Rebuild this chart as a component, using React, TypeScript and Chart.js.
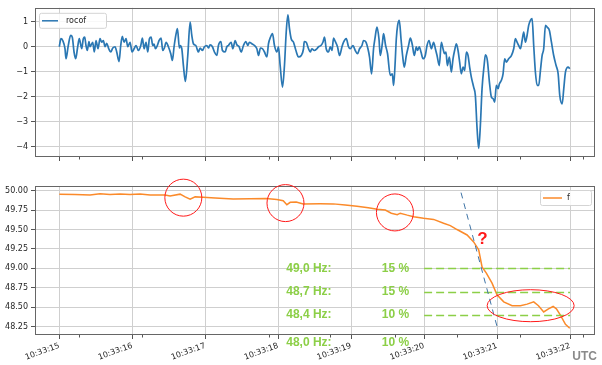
import React, { useEffect, useRef } from 'react';
import { Chart, registerables } from 'chart.js';

Chart.register(...registerables);

const FONT = "'DejaVu Sans', 'Liberation Sans', sans-serif";
const BOLD_FONT = "'Liberation Sans', Arial, sans-serif";
const TEXT = '#262626';
const GRID = '#cfcfcf';
const FRAME = '#666666';
const TICK = '#555555';
const BLUE = '#2a77b3';
const ORANGE = '#fb8a2a';
const GREEN = '#8ccf47';
const RED = '#ff1a1a';

// x axis (seconds of 10:33:xx)
const xTickSeconds = [15, 16, 17, 18, 19, 20, 21, 22];
const xTickLabels = ['10:33:15', '10:33:16', '10:33:17', '10:33:18', '10:33:19', '10:33:20', '10:33:21', '10:33:22'];
const xMinorSeconds = [15.27, 16.13, 17.87, 18.71, 19.6, 20.45, 21.32, 22.18];

const rocofTicks = [-4, -3, -2, -1, 0, 1];
const rocofTickLabels = ['\u22124', '\u22123', '\u22122', '\u22121', '0', '1'];
const fTicks = [48.25, 48.5, 48.75, 49.0, 49.25, 49.5, 49.75, 50.0];
const fTickLabels = ['48.25', '48.50', '48.75', '49.00', '49.25', '49.50', '49.75', '50.00'];

const rocofTime = [
  15.000, 15.023, 15.047, 15.078, 15.092, 15.123, 15.156, 15.178, 15.202, 15.225,
  15.252, 15.274, 15.307, 15.329, 15.348, 15.366, 15.384, 15.407, 15.421, 15.458,
  15.480, 15.503, 15.531, 15.558, 15.582, 15.604, 15.627, 15.650, 15.678, 15.705,
  15.733, 15.764, 15.787, 15.819, 15.842, 15.864, 15.888, 15.915, 15.938, 15.970,
  15.997, 16.025, 16.052, 16.084, 16.117, 16.139, 16.162, 16.189, 16.213, 16.235,
  16.258, 16.281, 16.299, 16.317, 16.344, 16.368, 16.395, 16.418, 16.440, 16.464,
  16.495, 16.528, 16.550, 16.573, 16.601, 16.619, 16.646,
  16.656, 16.679, 16.701, 16.728, 16.761, 16.793, 16.816, 16.838, 16.871, 16.907,
  16.930, 16.962, 16.989, 17.022, 17.044, 17.067, 17.099, 17.126, 17.159, 17.181,
  17.214, 17.236, 17.273, 17.296, 17.318, 17.355, 17.379, 17.410, 17.433, 17.465,
  17.492, 17.524, 17.557, 17.584, 17.606, 17.639, 17.675, 17.708, 17.730, 17.757,
  17.785, 17.812, 17.845, 17.867, 17.894, 17.922, 17.949, 17.982, 18.004, 18.027,
  18.059, 18.086, 18.110, 18.133, 18.155, 18.178, 18.210, 18.243, 18.278, 18.316,
  18.347,
  18.357, 18.384, 18.416, 18.439, 18.462, 18.494, 18.531, 18.553, 18.586, 18.613,
  18.635, 18.658, 18.690, 18.713, 18.737, 18.759, 18.782, 18.813, 18.841, 18.874,
  18.896, 18.933, 18.964, 18.988, 19.025, 19.056, 19.088, 19.115, 19.148, 19.170,
  19.203, 19.230, 19.252, 19.280, 19.307, 19.326, 19.354, 19.381, 19.399, 19.427,
  19.444, 19.472, 19.499, 19.536, 19.564, 19.582, 19.601, 19.619, 19.637, 19.660,
  19.683, 19.705, 19.728, 19.756, 19.787, 19.811, 19.838, 19.866, 19.893, 19.911,
  19.934, 19.957, 19.985, 20.016, 20.040, 20.067,
  20.099, 20.130, 20.154, 20.177, 20.208, 20.236, 20.259, 20.281, 20.300, 20.318,
  20.346, 20.373, 20.396, 20.418, 20.442, 20.465, 20.487, 20.510, 20.534, 20.556,
  20.579, 20.602, 20.624, 20.647, 20.679, 20.702, 20.726, 20.748, 20.771, 20.794,
  20.822, 20.840, 20.867, 20.895, 20.922, 20.945, 20.967, 20.990, 21.014, 21.032,
  21.059, 21.082, 21.104, 21.128, 21.159, 21.196, 21.228, 21.251, 21.274, 21.296,
  21.320, 21.343, 21.365, 21.388, 21.411, 21.433, 21.457, 21.480, 21.502, 21.525,
  21.549, 21.571, 21.594, 21.617, 21.639, 21.663, 21.686, 21.717, 21.745, 21.776,
  21.809, 21.837, 21.859, 21.892, 21.914, 21.937, 21.974, 21.996,
];
const rocofValue = [
  0.00, 0.32, 0.25, -0.08, -0.48, 0.05, 0.45, 0.38, -0.21, -0.48,
  0.00, 0.32, -0.08, 0.32, 0.38, 0.05, -0.15, 0.21, 0.00, 0.18,
  -0.21, 0.25, -0.08, 0.32, 0.18, 0.25, 0.00, 0.14, -0.08, -0.21,
  -0.05, 0.00, -0.21, -0.59, 0.05, 0.41, 0.18, 0.32, 0.00, 0.18,
  -0.21, -0.08, 0.05, -0.15, 0.05, 0.34, -0.08, 0.18, -0.21, 0.32,
  0.38, 0.05, 0.11, -0.08, 0.05, 0.25, 0.34, -0.15, -0.05, 0.18,
  0.00, -0.28, -0.55, 0.00, 0.52, 0.72, -0.05,
  0.05, -0.08, -0.75, -1.38, -0.35, 0.98, 0.45, 0.12, 0.05, -0.21,
  -0.05, -0.15, 0.00, 0.05, -0.05, 0.08, 0.00, -0.21, -0.35, 0.05,
  0.21, -0.15, -0.21, 0.00, 0.05, 0.18, -0.08, 0.25, 0.08, 0.00,
  -0.21, 0.05, 0.21, 0.05, 0.18, 0.12, 0.05, -0.08, -0.35, -0.05,
  -0.08, -0.21, -0.41, 0.12, 0.38, 0.52, 0.05, -0.21, 0.00, -0.75,
  -1.61, -0.75, 0.58, 1.27, 0.72, 0.32, 0.18, -0.15, -0.41, -0.35,
  -0.08,
  0.21, 0.18, -0.08, -0.21, -0.08, -0.15, -0.08, 0.00, 0.05, 0.18,
  0.38, -0.08, -0.21, 0.00, -0.15, 0.34, 0.21, 0.00, -0.35, 0.00,
  0.18, 0.32, 0.00, -0.08, 0.05, -0.15, -0.28, -0.08, 0.05, 0.25,
  0.18, -0.08, -0.41, -1.08, -0.08, 0.32, 0.78, 0.32, -0.35, 0.12,
  0.52, 0.05, -0.28, -1.14, -1.08, -1.54, -0.75, 0.32, 0.85, 1.05,
  0.32, -0.35, -0.81, -0.35, 0.05, 0.34, 0.08, -0.35, 0.00, -0.15,
  0.00, -0.21, -0.48, -0.35, 0.05, 0.25,
  -0.08, 0.18, -0.08, -0.35, -0.75, 0.18, -0.08, -0.28, -0.21, -0.75,
  -0.41, -1.01, -0.48, -0.15, 0.12, -0.15, -0.61, -1.08, -0.81, -0.95,
  -0.21, -0.35, -0.81, -1.21, -1.61, -1.94, -3.27, -4.06, -3.13, -1.67,
  -0.75, -0.32, -0.55, -1.41, -2.01, -2.07, -2.21, -1.54, -1.67, -1.48,
  -1.34, -1.08, -0.48, -0.61, -0.48, -0.35, -0.08, 0.32, 0.18, 0.05,
  -0.08, 0.25, 0.58, 0.18, 0.45, 0.85, 1.05, 1.12, 0.05, -1.01,
  -1.54, -1.54, -0.95, -0.35, -0.08, 0.85, 0.78, 0.65, 0.18, -0.35,
  -0.75, -1.08, -1.94, -2.28, -1.67, -1.01, -0.81, -0.88,
];

const fTime = [
  15.000, 15.215, 15.421, 15.558, 15.695, 15.833, 15.970, 16.107, 16.244, 16.450,
  16.518, 16.656, 16.725, 16.793, 16.862, 16.971, 17.136, 17.383, 17.616, 17.835,
  17.982, 18.069, 18.119, 18.165, 18.247, 18.343, 18.576, 18.755, 18.919, 19.080,
  19.235, 19.358, 19.468, 19.550, 19.632, 19.673, 19.769, 19.856, 19.993, 20.130,
  20.267, 20.359, 20.451, 20.589, 20.679, 20.748, 20.794, 20.853, 20.931, 20.999,
  21.091, 21.206, 21.320, 21.412, 21.502, 21.567, 21.639, 21.704, 21.768, 21.813,
  21.868, 21.937, 21.996,
];
const fValue = [
  49.955, 49.950, 49.945, 49.960, 49.950, 49.958, 49.950, 49.958, 49.945, 49.945,
  49.930, 49.955, 49.920, 49.890, 49.920, 49.915, 49.906, 49.893, 49.895, 49.900,
  49.887, 49.870, 49.820, 49.850, 49.855, 49.830, 49.832, 49.830, 49.816, 49.800,
  49.780, 49.760, 49.750, 49.710, 49.690, 49.710, 49.685, 49.665, 49.645, 49.630,
  49.580, 49.550, 49.500, 49.430, 49.340, 49.240, 49.020, 48.940, 48.810, 48.660,
  48.570, 48.520, 48.520, 48.540, 48.570, 48.520, 48.440, 48.480, 48.510, 48.480,
  48.400, 48.280, 48.230,
];

// annotations (in data coordinates)
const circleTime = [16.70, 18.10, 19.60];
const circleFreq = [49.91, 49.84, 49.72];
const ellipseTime = 21.46;
const ellipseFreq = 48.52;
const questionTime = 20.80;
const questionFreq = 49.37;
const trendTime = [20.506, 21.0];
const trendFreq = [49.975, 48.25];
const thresholdFreq = [49.0, 48.7, 48.4];
const thresholdStart = 20.0;
const thresholdEnd = 22.0;
const stageLabels = ['49,0 Hz:', '48,7 Hz:', '48,4 Hz:', '48,0 Hz:'];
const stageShares = ['15 %', '15 %', '10 %', '10 %'];
const stageLabelFreq = [49.0, 48.7, 48.4, 48.05];
const stageLabelTime = 18.11;
const stageShareTime = 19.42;

const X_MIN = 14.667;
const X_MAX = 22.342;

function xScale(showLabels: boolean, height: number) {
  return {
    type: 'linear',
    min: X_MIN,
    max: X_MAX,
    afterBuildTicks: (axis: any) => {
      axis.ticks = xTickSeconds.map((v) => ({ value: v }));
    },
    afterFit: (axis: any) => {
      axis.height = height;
    },
    grid: { color: GRID, lineWidth: 1, tickLength: 4, tickColor: TICK, drawTicks: true },
    border: { display: false },
    ticks: {
      display: showLabels,
      autoSkip: false,
      minRotation: 20,
      maxRotation: 20,
      padding: 2,
      color: TEXT,
      font: { family: FONT, size: 8 },
      callback: (_v: any, i: number) => xTickLabels[i],
    },
  };
}

function yScale(min: number, max: number, ticks: number[], labels: string[]) {
  return {
    min,
    max,
    afterBuildTicks: (axis: any) => {
      axis.ticks = ticks.map((v) => ({ value: v }));
    },
    afterFit: (axis: any) => {
      axis.width = 35;
    },
    grid: { color: GRID, lineWidth: 1, tickLength: 4, tickColor: TICK, drawTicks: true },
    border: { display: false },
    ticks: {
      color: TEXT,
      padding: 3,
      font: { family: FONT, size: 8 },
      callback: (_v: any, i: number) => labels[i],
    },
  };
}

const framePlugin = {
  id: 'frame',
  afterDraw(chart: any) {
    const { ctx, chartArea: a } = chart;
    const xs = chart.scales.x;
    ctx.save();
    ctx.strokeStyle = FRAME;
    ctx.lineWidth = 1;
    ctx.strokeRect(Math.round(a.left) + 0.5, Math.round(a.top) + 0.5, Math.round(a.right - a.left) - 1, Math.round(a.bottom - a.top) - 1);
    ctx.strokeStyle = TICK;
    ctx.beginPath();
    xMinorSeconds.forEach((s) => {
      const px = Math.round(xs.getPixelForValue(s)) + 0.5;
      if (px >= a.left && px <= a.right) {
        ctx.moveTo(px, a.bottom);
        ctx.lineTo(px, a.bottom + 2.5);
      }
    });
    ctx.stroke();
    ctx.restore();
  },
};

function drawLegend(ctx: CanvasRenderingContext2D, x: number, y: number, w: number, h: number, lx0: number, lx1: number, tx: number, color: string, label: string) {
  ctx.save();
  ctx.fillStyle = 'rgba(255,255,255,0.85)';
  ctx.strokeStyle = '#d4d4d4';
  ctx.lineWidth = 1;
  ctx.beginPath();
  (ctx as any).roundRect(x + 0.5, y + 0.5, w, h, 2);
  ctx.fill();
  ctx.stroke();
  ctx.strokeStyle = color;
  ctx.lineWidth = 1.5;
  ctx.beginPath();
  ctx.moveTo(x + lx0, y + h / 2 + 0.5);
  ctx.lineTo(x + lx1, y + h / 2 + 0.5);
  ctx.stroke();
  ctx.fillStyle = TEXT;
  ctx.font = `8px ${FONT}`;
  ctx.textBaseline = 'middle';
  ctx.textAlign = 'left';
  ctx.fillText(label, x + tx, y + h / 2 + 0.5);
  ctx.restore();
}

const topLegendPlugin = {
  id: 'topLegend',
  afterDraw(chart: any) {
    const a = chart.chartArea;
    drawLegend(chart.ctx, a.left + 4, a.top + 5, 67, 15, 3, 19, 27, BLUE, 'rocof');
  },
};

const bottomPlugin = {
  id: 'bottomAnnotations',
  afterDraw(chart: any) {
    const { ctx, chartArea: a } = chart;
    const xs = chart.scales.x;
    const ys = chart.scales.y;
    ctx.save();
    // green threshold lines
    ctx.strokeStyle = GREEN;
    ctx.lineWidth = 1.5;
    ctx.setLineDash([8, 4]);
    thresholdFreq.forEach((f) => {
      const py = Math.round(ys.getPixelForValue(f)) + 0.5;
      ctx.beginPath();
      ctx.moveTo(xs.getPixelForValue(thresholdStart), py);
      ctx.lineTo(xs.getPixelForValue(thresholdEnd), py);
      ctx.stroke();
    });
    // blue trend dashed
    ctx.strokeStyle = '#3f74a6';
    ctx.lineWidth = 1;
    ctx.setLineDash([6, 5]);
    ctx.beginPath();
    ctx.moveTo(xs.getPixelForValue(trendTime[0]), ys.getPixelForValue(trendFreq[0]));
    ctx.lineTo(xs.getPixelForValue(trendTime[1]), ys.getPixelForValue(trendFreq[1]));
    ctx.stroke();
    ctx.setLineDash([]);
    // red circles
    ctx.strokeStyle = RED;
    ctx.lineWidth = 1;
    circleTime.forEach((t, i) => {
      ctx.beginPath();
      ctx.arc(xs.getPixelForValue(t), ys.getPixelForValue(circleFreq[i]), 18.5, 0, Math.PI * 2);
      ctx.stroke();
    });
    ctx.beginPath();
    ctx.ellipse(xs.getPixelForValue(ellipseTime), ys.getPixelForValue(ellipseFreq), 43.5, 16, 0, 0, Math.PI * 2);
    ctx.stroke();
    // question mark
    ctx.fillStyle = RED;
    ctx.font = `bold 17px ${BOLD_FONT}`;
    ctx.textAlign = 'center';
    ctx.textBaseline = 'middle';
    ctx.fillText('?', xs.getPixelForValue(questionTime), ys.getPixelForValue(questionFreq));
    // stage labels
    ctx.fillStyle = GREEN;
    ctx.font = `bold 12px ${BOLD_FONT}`;
    ctx.textAlign = 'left';
    stageLabels.forEach((lab, i) => {
      const py = ys.getPixelForValue(stageLabelFreq[i]);
      ctx.fillText(lab, xs.getPixelForValue(stageLabelTime), py);
      ctx.fillText(stageShares[i], xs.getPixelForValue(stageShareTime), py);
    });
    // legend
    drawLegend(ctx, a.right - 55, a.top + 4, 51, 15, 3, 22, 27, ORANGE, 'f');
    // UTC
    ctx.fillStyle = '#8a8a8a';
    ctx.font = `bold 12px ${BOLD_FONT}`;
    ctx.textAlign = 'right';
    ctx.textBaseline = 'middle';
    ctx.fillText('UTC', chart.width - 5, chart.height - 8);
    ctx.restore();
  },
};

export default function App() {
  const topRef = useRef<HTMLCanvasElement>(null);
  const botRef = useRef<HTMLCanvasElement>(null);

  useEffect(() => {
    const top = new Chart(topRef.current as HTMLCanvasElement, {
      type: 'line',
      data: {
        datasets: [
          {
            label: 'rocof',
            data: rocofTime.map((t, i) => ({ x: t, y: rocofValue[i] })),
            borderColor: BLUE,
            borderWidth: 1.7,
            pointRadius: 0,
            cubicInterpolationMode: 'monotone',
            fill: false,
          },
        ],
      },
      options: {
        responsive: false,
        animation: false,
        devicePixelRatio: 1,
        layout: { padding: { top: 7, right: 7, left: 0, bottom: 0 } },
        plugins: { legend: { display: false }, tooltip: { enabled: false } },
        scales: {
          x: xScale(false, 8) as any,
          y: yScale(-4.40, 1.554, rocofTicks, rocofTickLabels) as any,
        },
      },
      plugins: [framePlugin, topLegendPlugin],
    });

    const bot = new Chart(botRef.current as HTMLCanvasElement, {
      type: 'line',
      data: {
        datasets: [
          {
            label: 'f',
            data: fTime.map((t, i) => ({ x: t, y: fValue[i] })),
            borderColor: ORANGE,
            borderWidth: 1.5,
            pointRadius: 0,
            tension: 0,
            fill: false,
          },
        ],
      },
      options: {
        responsive: false,
        animation: false,
        devicePixelRatio: 1,
        layout: { padding: { top: 21, right: 7, left: 0, bottom: 0 } },
        plugins: { legend: { display: false }, tooltip: { enabled: false } },
        scales: {
          x: xScale(true, 30) as any,
          y: yScale(48.143, 50.06, fTicks, fTickLabels) as any,
        },
      },
      plugins: [framePlugin, bottomPlugin],
    });

    return () => {
      top.destroy();
      bot.destroy();
    };
  }, []);

  return (
    <div style={{ position: 'fixed', left: 0, top: 0, width: 602, height: 365, background: '#ffffff' }}>
      <canvas ref={topRef} width={602} height={165} style={{ position: 'absolute', left: 0, top: 0 }} />
      <canvas ref={botRef} width={602} height={200} style={{ position: 'absolute', left: 0, top: 165 }} />
    </div>
  );
}
